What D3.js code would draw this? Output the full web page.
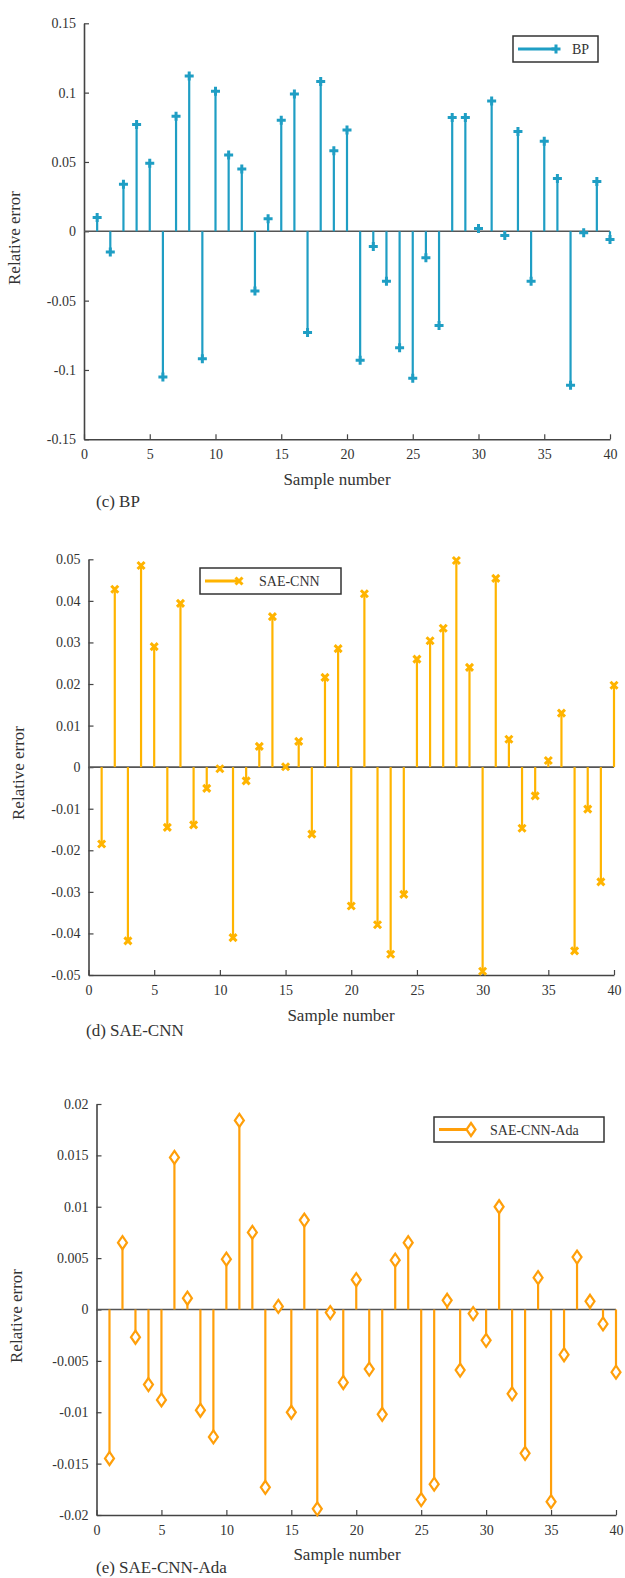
<!DOCTYPE html>
<html lang="en">
<head>
    <meta charset="UTF-8">
    <title>Relative error</title>
    <style>
        body { margin: 0; background: #fff; }
        svg text { font-family: "Liberation Serif", "Times New Roman", serif; fill: #333; }
    </style>
</head>
<body>
<div id="graph"></div>

<script src="https://cdnjs.cloudflare.com/ajax/libs/d3/7.8.5/d3.min.js"></script>

<script>
    // sample numbers 1..40
    const samples = [1,2,3,4,5,6,7,8,9,10,11,12,13,14,15,16,17,18,19,20,
                     21,22,23,24,25,26,27,28,29,30,31,32,33,34,35,36,37,38,39,40];
    const xTicks = [0, 5, 10, 15, 20, 25, 30, 35, 40];

    // (c) BP
    const bpErrors = [0.010, -0.015, 0.034, 0.077, 0.049, -0.105, 0.083, 0.112, -0.092, 0.101,
                      0.055, 0.045, -0.043, 0.009, 0.080, 0.099, -0.073, 0.108, 0.058, 0.073,
                      -0.093, -0.011, -0.036, -0.084, -0.106, -0.019, -0.068, 0.082, 0.082, 0.002,
                      0.094, -0.003, 0.072, -0.036, 0.065, 0.038, -0.111, -0.001, 0.036, -0.006];
    const bpTicks = [-0.15, -0.1, -0.05, 0, 0.05, 0.1, 0.15];

    // (d) SAE-CNN
    const saeErrors = [-0.0185, 0.0428, -0.0418, 0.0485, 0.0290, -0.0145, 0.0394, -0.0139, -0.0051, -0.0004,
                       -0.0410, -0.0033, 0.0050, 0.0362, 0.0001, 0.0062, -0.0161, 0.0216, 0.0285, -0.0334,
                       0.0417, -0.0379, -0.0450, -0.0306, 0.0260, 0.0304, 0.0334, 0.0497, 0.0240, -0.0491,
                       0.0454, 0.0067, -0.0147, -0.0069, 0.0016, 0.0130, -0.0442, -0.0101, -0.0276, 0.0197];
    const saeTicks = [-0.05, -0.04, -0.03, -0.02, -0.01, 0, 0.01, 0.02, 0.03, 0.04, 0.05];

    // (e) SAE-CNN-Ada
    const adaErrors = [-0.0145, 0.0065, -0.0027, -0.0073, -0.0088, 0.0148, 0.0011, -0.0098, -0.0124, 0.0049,
                       0.0184, 0.0075, -0.0173, 0.0003, -0.0100, 0.0087, -0.0194, -0.0003, -0.0071, 0.0029,
                       -0.0058, -0.0102, 0.0048, 0.0065, -0.0185, -0.0170, 0.0009, -0.0059, -0.0004, -0.0030,
                       0.0100, -0.0082, -0.0140, 0.0031, -0.0187, -0.0044, 0.0051, 0.0008, -0.0014, -0.0061];
    const adaTicks = [-0.02, -0.015, -0.01, -0.005, 0, 0.005, 0.01, 0.015, 0.02];

    const W = 625, H = 1578;
    const axisColor = "#444";

    const svg = d3.select("#graph").append("svg")
        .attr("width", W)
        .attr("height", H);

    // marker shapes
    function drawMarker(g, kind, x, y, color) {
        if (kind === "plus") {
            g.append("path")
                .attr("d", `M${x-4.5},${y}H${x+4.5}M${x},${y-4.5}V${y+4.5}`)
                .attr("stroke", color).attr("stroke-width", 3).attr("fill", "none");
        } else if (kind === "cross") {
            g.append("path")
                .attr("d", `M${x-3.5},${y-3.5}L${x+3.5},${y+3.5}M${x-3.5},${y+3.5}L${x+3.5},${y-3.5}`)
                .attr("stroke", color).attr("stroke-width", 3).attr("fill", "none");
        } else {
            g.append("path")
                .attr("d", `M${x},${y-6.5}L${x+4.5},${y}L${x},${y+6.5}L${x-4.5},${y}Z`)
                .attr("stroke", color).attr("stroke-width", 2.2).attr("fill", "#fff");
        }
    }

    function fmt(v) { return String(+v.toFixed(4)); }

    function drawPanel(p) {
        const g = svg.append("g");
        const x = d3.scaleLinear().domain([0, 40]).range([p.left, p.right]);
        const y = d3.scaleLinear().domain([p.ticks[0], p.ticks[p.ticks.length - 1]]).range([p.bottom, p.top]);

        // axes (ticks point inward)
        const ya = g.append("g")
            .attr("transform", `translate(${p.left},0)`)
            .call(d3.axisLeft(y).tickValues(p.ticks).tickFormat(fmt)
                .tickSizeInner(-5).tickSizeOuter(0).tickPadding(8));
        const xa = g.append("g")
            .attr("transform", `translate(0,${p.bottom})`)
            .call(d3.axisBottom(x).tickValues(xTicks).tickFormat(d3.format("d"))
                .tickSizeInner(-5).tickSizeOuter(0).tickPadding(10));
        [ya, xa].forEach(a => {
            a.select(".domain").attr("stroke", axisColor).attr("stroke-width", 1.6);
            a.selectAll(".tick line").attr("stroke", axisColor).attr("stroke-width", 1.2);
            a.selectAll(".tick text")
                .style("font-family", '"Liberation Serif", serif')
                .attr("font-size", 14).attr("fill", "#333");
        });

        // baseline at zero
        g.append("line")
            .attr("x1", x(0)).attr("x2", x(40))
            .attr("y1", y(0)).attr("y2", y(0))
            .attr("stroke", "#555").attr("stroke-width", 1.6);

        // stems
        g.selectAll(".stem").data(p.values).enter().append("line")
            .attr("x1", (d, i) => x(samples[i]))
            .attr("x2", (d, i) => x(samples[i]))
            .attr("y1", y(0))
            .attr("y2", d => y(d))
            .attr("stroke", p.color).attr("stroke-width", 2.2);
        p.values.forEach((d, i) => drawMarker(g, p.marker, x(samples[i]), y(d), p.color));

        // axis titles
        g.append("text")
            .attr("transform", `translate(${p.ylabX},${p.ylabY}) rotate(-90)`)
            .attr("text-anchor", "middle")
            .attr("font-size", 17)
            .text("Relative error");
        g.append("text")
            .attr("x", p.xlabX).attr("y", p.xlabY)
            .attr("text-anchor", "middle")
            .attr("font-size", 17)
            .text("Sample number");
        g.append("text")
            .attr("x", p.capX).attr("y", p.capY)
            .attr("font-size", 17)
            .text(p.caption);

        // legend
        const L = p.legend;
        g.append("rect")
            .attr("x", L.x).attr("y", L.y).attr("width", L.w).attr("height", L.h)
            .attr("fill", "#fff").attr("stroke", "#333").attr("stroke-width", 1.5);
        const ly = L.y + L.h / 2;
        g.append("line")
            .attr("x1", L.x + 5).attr("x2", L.x + L.lineW)
            .attr("y1", ly).attr("y2", ly)
            .attr("stroke", p.color).attr("stroke-width", 3);
        drawMarker(g, p.marker, L.x + L.lineW, ly, p.color);
        g.append("text")
            .attr("x", L.x + L.textX).attr("y", ly + 5)
            .attr("font-size", 14)
            .text(p.name);
    }

    drawPanel({
        values: bpErrors, ticks: bpTicks, name: "BP", caption: "(c) BP",
        color: "#1f9ec4", marker: "plus",
        left: 84, right: 610, top: 23.3, bottom: 439.3,
        ylabX: 20, ylabY: 238, xlabX: 337, xlabY: 485, capX: 96, capY: 507,
        legend: {x: 513, y: 36, w: 85, h: 26, lineW: 43, textX: 59}
    });

    drawPanel({
        values: saeErrors, ticks: saeTicks, name: "SAE-CNN", caption: "(d) SAE-CNN",
        color: "#ffb400", marker: "cross",
        left: 88.5, right: 614, top: 559.3, bottom: 975,
        ylabX: 24, ylabY: 773, xlabX: 341, xlabY: 1021, capX: 86, capY: 1036,
        legend: {x: 200, y: 568, w: 141, h: 26, lineW: 39, textX: 59}
    });

    drawPanel({
        values: adaErrors, ticks: adaTicks, name: "SAE-CNN-Ada", caption: "(e) SAE-CNN-Ada",
        color: "#ff9f0a", marker: "diamond",
        left: 96.5, right: 616, top: 1104, bottom: 1515,
        ylabX: 22, ylabY: 1316, xlabX: 347, xlabY: 1560, capX: 96, capY: 1573,
        legend: {x: 434, y: 1117, w: 170, h: 25, lineW: 37, textX: 56}
    });
</script>
</body>
</html>
